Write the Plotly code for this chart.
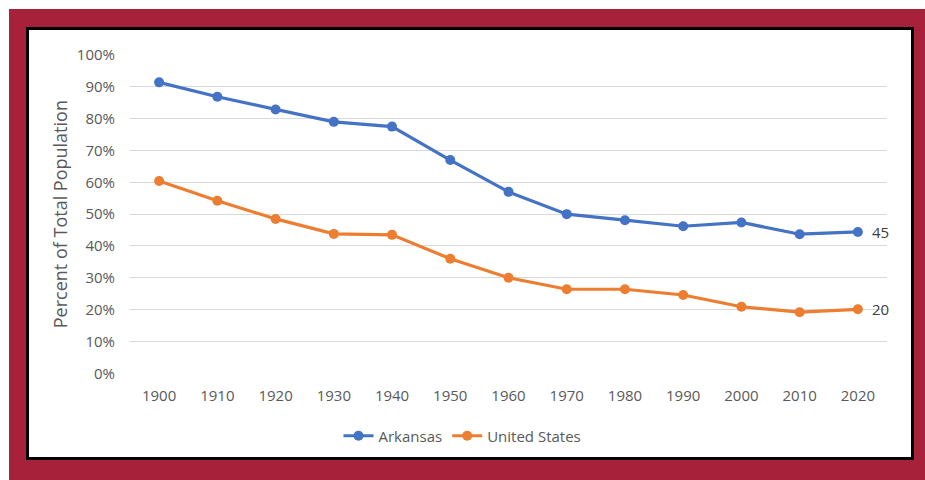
import plotly.graph_objects as go

years = ["1900", "1910", "1920", "1930", "1940", "1950", "1960", "1970", "1980", "1990", "2000", "2010", "2020"]
arkansas = [91.4, 86.9, 82.9, 79.0, 77.5, 67.0, 57.0, 50.0, 48.1, 46.2, 47.4, 43.7, 44.4]
united_states = [60.4, 54.2, 48.5, 43.8, 43.5, 36.0, 30.0, 26.4, 26.4, 24.6, 20.9, 19.2, 20.1]
end_labels = ["45", "20"]
y_ticks = [0, 10, 20, 30, 40, 50, 60, 70, 80, 90, 100]
y_tick_text = [f"{v}%" for v in y_ticks]

W, H = 925, 480
def px(x):
    return x / W
def py(y):
    return 1 - y / H

FONT = "'Open Sans', Lato, sans-serif"
TICK = "#595959"

fig = go.Figure()
fig.add_trace(go.Scatter(x=years, y=arkansas, name="Arkansas", mode="lines+markers",
                         line=dict(color="#4472C4", width=3.2), marker=dict(size=10, color="#4472C4")))
fig.add_trace(go.Scatter(x=years, y=united_states, name="United States", mode="lines+markers",
                         line=dict(color="#ED7D31", width=3.2), marker=dict(size=10, color="#ED7D31")))

last_idx = len(years) - 1
for series, lab in zip([arkansas, united_states], end_labels):
    fig.add_annotation(x=last_idx, y=series[-1], xref="x", yref="y", text=lab, showarrow=False,
                       xanchor="left", xshift=12, font=dict(family=FONT, size=15, color="#404040"))

shapes = [
    dict(type="rect", xref="paper", yref="paper", x0=px(9), x1=px(925), y0=py(9), y1=py(480),
         fillcolor="#A8213B", line=dict(width=0), layer="below"),
    dict(type="rect", xref="paper", yref="paper", x0=px(27.5), x1=px(912.5), y0=py(28.5), y1=py(458.5),
         fillcolor="white", line=dict(color="black", width=3), layer="below"),
]

fig.update_layout(
    width=W, height=H, autosize=False,
    margin=dict(l=0, r=0, t=0, b=0, autoexpand=False),
    paper_bgcolor="white", plot_bgcolor="rgba(0,0,0,0)",
    shapes=shapes,
    font=dict(family=FONT, color=TICK),
    showlegend=True,
    legend=dict(orientation="h", x=0.5, xanchor="center", y=py(436), yanchor="middle",
                font=dict(family=FONT, size=15, color=TICK), bgcolor="rgba(0,0,0,0)",
                itemwidth=30, tracegroupgap=0),
    xaxis=dict(domain=[px(130), px(887)], type="category", range=[-0.5, 12.5],
               showgrid=False, showline=False, zeroline=False, ticks="", automargin=False,
               tickfont=dict(family=FONT, size=15, color=TICK), ticklabelstandoff=12),
    yaxis=dict(domain=[py(373.3), py(55)], range=[0, 100], tickmode="array", tickvals=y_ticks,
               ticktext=y_tick_text, automargin=False,
               showgrid=True, gridcolor="#D9D9D9", gridwidth=1, zeroline=False, showline=False,
               ticks="", tickfont=dict(family=FONT, size=15, color=TICK), ticklabelstandoff=14,
               title=dict(text="Percent of Total Population", font=dict(family=FONT, size=18, color=TICK),
                          standoff=4)),
)

post = ("document.body.style.margin='0';document.body.style.overflow='hidden';"
        "var gd=document.getElementById('{plot_id}');gd.style.position='absolute';"
        "gd.style.left='0px';gd.style.top='0px';")
fig.write_html("out.html", post_script=post, config={"displayModeBar": False})
